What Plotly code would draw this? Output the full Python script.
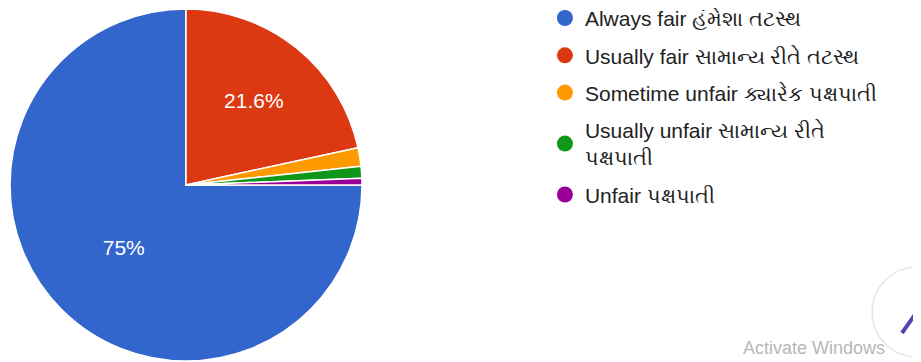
import plotly.graph_objects as go

labels = [
    "Always fair હંમેશા તટસ્થ",
    "Usually fair સામાન્ય રીતે તટસ્થ",
    "Sometime unfair ક્યારેક પક્ષપાતી",
    "Usually unfair સામાન્ય રીતે<br>પક્ષપાતી",
    "Unfair પક્ષપાતી",
]
values = [75, 21.6, 1.7, 1.1, 0.6]
slice_text = ["75%", "21.6%", "", "", ""]
colors = ["#3366cc", "#dc3912", "#ff9900", "#109618", "#990099"]

W, H = 921, 362
fig = go.Figure()
fig.add_trace(go.Pie(
    labels=labels, values=values, text=slice_text,
    textinfo="text", textposition="inside", insidetextorientation="horizontal",
    textfont=dict(family="Liberation Sans, Arial", size=21, color="white"),
    marker=dict(colors=colors, line=dict(color="white", width=1.5)),
    sort=False, direction="clockwise", rotation=90,
    domain=dict(x=[2 / W, 354 / W], y=[9 / H, 361 / H]),
    showlegend=False, hoverinfo="label+percent",
))
for i, (lab, col) in enumerate(zip(labels, colors)):
    fig.add_trace(go.Scatter(
        x=[None], y=[None], mode="markers", name=lab,
        marker=dict(symbol="circle", size=18, color=col),
        legendgroup=f"g{i}", showlegend=True,
    ))

fig.update_layout(
    width=W, height=H, margin=dict(l=0, r=0, t=0, b=0, autoexpand=False),
    paper_bgcolor="white", plot_bgcolor="white",
    xaxis=dict(visible=False), yaxis=dict(visible=False),
    legend=dict(
        x=0.583, y=1.028, xanchor="left", yanchor="top",
        font=dict(family="Liberation Sans, Arial, Noto Sans", size=21, color="#222222"),
        traceorder="grouped", tracegroupgap=7, itemsizing="trace",
        bgcolor="rgba(0,0,0,0)", maxheight=500,
    ),
    annotations=[dict(
        text="Activate Windows", x=733 / W, y=10 / H, xref="paper", yref="paper",
        xanchor="left", yanchor="bottom", showarrow=False,
        font=dict(family="Liberation Sans, Arial", size=18, color="#b8b8b8"),
    )],
    shapes=[
        dict(type="circle", xref="paper", yref="paper",
             x0=864 / W, x1=954 / W, y0=(H - 349) / H, y1=(H - 259) / H,
             line=dict(color="#e6e6e6", width=1.5), fillcolor="rgba(0,0,0,0)"),
        dict(type="line", xref="paper", yref="paper",
             x0=894 / W, x1=913 / W, y0=(H - 325) / H, y1=(H - 298) / H,
             line=dict(color="#5a3fb5", width=4)),
    ],
)
fig.write_html("out.html")
